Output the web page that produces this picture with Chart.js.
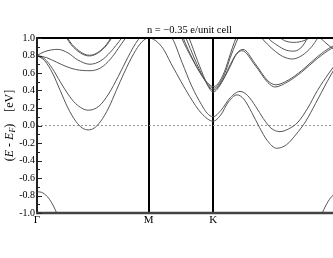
<!DOCTYPE html>
<html><head><meta charset="utf-8">
<script src="https://cdn.jsdelivr.net/npm/chart.js@4.4.1/dist/chart.umd.min.js"></script>
<style>
html,body{margin:0;padding:0;background:#fff;overflow:hidden;width:333px;height:258px}
#wrap{position:absolute;left:0;top:0;width:350px;height:258px}
</style>
</head><body><div id="wrap"><canvas id="c" width="350" height="258"></canvas></div>
<script>
// High-symmetry points along the path (k in units of 2π/a)
const kPointPos = [0, 0.577, 0.911, 1.577];
const kPointLabels = ['Γ', 'M', 'K', 'Γ'];
const titleText = 'n = −0.35 e/unit cell';

// Bands: [k, E - E_F (eV)]
const bandA = [[0,0.80],[0.04,0.74],[0.08,0.60],[0.12,0.40],[0.16,0.20],[0.20,0.05],[0.235,-0.03],[0.265,-0.05],[0.295,-0.03],[0.33,0.05],[0.37,0.20],[0.41,0.40],[0.45,0.60],[0.50,0.82],[0.54,0.95],[0.577,1.0],
  [0.645,0.90],[0.70,0.68],[0.79,0.33],[0.85,0.14],[0.911,0.05],
  [0.95,0.12],[0.99,0.27],[1.034,0.35],[1.07,0.30],[1.11,0.15],[1.15,-0.02],[1.19,-0.17],[1.239,-0.26],[1.29,-0.22],[1.34,-0.10],[1.39,0.05],[1.44,0.25],[1.50,0.50],[1.577,0.80]];
const bandB = [[0,0.80],[0.04,0.76],[0.08,0.65],[0.12,0.50],[0.16,0.36],[0.20,0.25],[0.265,0.175],[0.32,0.22],[0.37,0.36],[0.42,0.56],[0.47,0.78],[0.523,0.98],[0.577,1.08],[0.64,1.08],
  [0.698,1.0],[0.75,0.72],[0.80,0.45],[0.85,0.24],[0.88,0.14],[0.911,0.10],
  [0.95,0.17],[1.0,0.32],[1.05,0.39],[1.09,0.34],[1.13,0.22],[1.17,0.08],[1.21,-0.03],[1.256,-0.07],[1.30,-0.04],[1.35,0.04],[1.40,0.20],[1.45,0.40],[1.51,0.60],[1.577,0.80]];
const bandC = [[0,0.80],[0.05,0.775],[0.10,0.725],[0.15,0.675],[0.20,0.64],[0.274,0.626],[0.33,0.66],[0.38,0.76],[0.42,0.88],[0.458,1.0],[0.50,1.12]];
const bandD = [[0,0.80],[0.04,0.845],[0.108,0.87],[0.16,0.83],[0.21,0.75],[0.274,0.70],[0.33,0.74],[0.38,0.84],[0.438,1.0],[0.48,1.12]];
const bandE1 = [[0.13,1.12],[0.1535,1.0],[0.20,0.87],[0.27,0.795],[0.34,0.87],[0.386,1.0],[0.41,1.1]];
const bandE2 = [[0.135,1.12],[0.158,1.0],[0.205,0.875],[0.272,0.803],[0.338,0.875],[0.382,1.0],[0.405,1.1]];
const bandF1 = [[0.73,1.1],[0.748,1.0],[0.80,0.77],[0.85,0.58],[0.89,0.47],[0.911,0.445],[0.935,0.475],[0.97,0.62],[1.0,0.82],[1.02,0.95],[1.035,1.03]];
const bandF2 = [[0.74,1.1],[0.756,1.0],[0.805,0.76],[0.855,0.56],[0.89,0.455],[0.911,0.425],[0.935,0.455],[0.97,0.59],[1.0,0.78],[1.03,0.95],[1.045,1.03]];
const bandG1 = [[0.75,1.1],[0.77,1.0],[0.815,0.76],[0.86,0.55],[0.89,0.44],[0.911,0.405],[0.935,0.44],[0.97,0.56],[1.0,0.70],[1.035,0.83],[1.065,0.87],[1.127,0.71],[1.194,0.51],[1.235,0.465],[1.30,0.52],[1.37,0.63],[1.452,0.79],[1.523,0.90],[1.577,0.95]];
const bandG2 = [[0.765,1.1],[0.786,1.0],[0.83,0.74],[0.87,0.52],[0.895,0.41],[0.911,0.383],[0.93,0.41],[0.965,0.53],[1.0,0.68],[1.03,0.81],[1.06,0.855],[1.127,0.69],[1.194,0.49],[1.23,0.44],[1.297,0.50],[1.368,0.61],[1.452,0.77],[1.523,0.88],[1.577,0.93]];
const bandH1 = [[1.12,1.1],[1.161,1.0],[1.22,0.87],[1.27,0.79],[1.32,0.76],[1.37,0.80],[1.42,0.90],[1.452,1.0],[1.48,1.08]];
const bandH2 = [[1.16,1.1],[1.194,1.0],[1.24,0.92],[1.29,0.86],[1.33,0.85],[1.37,0.90],[1.40,1.0],[1.43,1.08]];
const bandH3 = [[1.23,1.05],[1.28,0.97],[1.33,0.95],[1.38,0.97],[1.43,1.03]];
const bandH4 = [[1.44,1.05],[1.48,0.97],[1.53,0.88],[1.577,0.85]];
const bandLowL = [[0,-0.755],[0.03,-0.77],[0.06,-0.83],[0.085,-0.92],[0.102,-1.0],[0.115,-1.06]];
const bandLowR = [[1.462,-1.06],[1.475,-1.0],[1.492,-0.92],[1.517,-0.83],[1.547,-0.77],[1.577,-0.755]];
const fermiLevel = [[0,0],[1.577,0]];

const allBands = [bandA,bandB,bandC,bandD,bandE1,bandE2,bandF1,bandF2,bandG1,bandG2,bandH1,bandH2,bandH3,bandH4,bandLowL,bandLowR];

const serif = '"Liberation Serif", "DejaVu Serif", serif';

const datasets = allBands.map(b => ({
  data: b.map(([x, y]) => ({x, y})),
  borderColor: '#555',
  borderWidth: 1,
  pointRadius: 0,
  cubicInterpolationMode: 'monotone',
  fill: false
}));
datasets.push({
  data: fermiLevel.map(([x, y]) => ({x, y})),
  borderColor: '#999',
  borderWidth: 1,
  borderDash: [2, 2],
  pointRadius: 0,
  fill: false
});

const decor = {
  id: 'decor',
  afterDraw(chart) {
    const {ctx, chartArea: a, scales} = chart;
    const ys = scales.y;
    ctx.save();
    // frame
    ctx.lineCap = 'butt';
    ctx.strokeStyle = '#000';
    ctx.lineWidth = 2;
    ctx.beginPath(); ctx.moveTo(a.left - 1, a.top); ctx.lineTo(a.right, a.top); ctx.stroke();
    ctx.strokeStyle = '#222';
    ctx.beginPath(); ctx.moveTo(a.left, a.top - 1); ctx.lineTo(a.left, a.bottom + 1); ctx.stroke();
    ctx.strokeStyle = '#444';
    ctx.lineWidth = 2.5;
    ctx.beginPath(); ctx.moveTo(a.left - 1, a.bottom); ctx.lineTo(a.right, a.bottom); ctx.stroke();
    // inner ticks
    ctx.strokeStyle = '#222';
    ctx.lineWidth = 1;
    for (let i = 0; i <= 20; i++) {
      const v = -1 + i * 0.1;
      const py = Math.round(ys.getPixelForValue(v)) + 0.5;
      const len = (i % 2 === 0) ? 5 : 3;
      ctx.beginPath(); ctx.moveTo(a.left, py); ctx.lineTo(a.left + len, py); ctx.stroke();
    }
    // title
    ctx.fillStyle = '#000';
    ctx.font = '10.5px ' + serif;
    ctx.textAlign = 'center';
    ctx.textBaseline = 'alphabetic';
    ctx.fillText(titleText, (a.left + a.right) / 2, 33);
    // y-axis title
    ctx.translate(10, (a.top + a.bottom) / 2);
    ctx.rotate(-Math.PI / 2);
    const pieces = [
      {t: '(', f: '12px ' + serif, dy: 0},
      {t: 'E', f: 'italic 12px ' + serif, dy: 0},
      {t: ' - ', f: '12px ' + serif, dy: 0},
      {t: 'E', f: 'italic 12px ' + serif, dy: 0},
      {t: 'F', f: 'italic 8px ' + serif, dy: 3},
      {t: ')', f: '12px ' + serif, dy: 0},
      {t: '    ', f: '12px ' + serif, dy: 0},
      {t: '[eV]', f: '12px ' + serif, dy: 0}
    ];
    let total = 0;
    pieces.forEach(p => { ctx.font = p.f; p.w = ctx.measureText(p.t).width; total += p.w; });
    let x = -total / 2;
    ctx.textAlign = 'left';
    ctx.textBaseline = 'middle';
    pieces.forEach(p => { ctx.font = p.f; ctx.fillText(p.t, x, p.dy); x += p.w; });
    ctx.restore();
  }
};

new Chart(document.getElementById('c'), {
  type: 'line',
  data: {datasets},
  options: {
    responsive: false,
    animation: false,
    devicePixelRatio: 1,
    layout: {padding: {top: 38, right: 8, left: 0, bottom: 0}},
    plugins: {legend: {display: false}, title: {display: false}, tooltip: {enabled: false}},
    scales: {
      x: {
        type: 'linear', min: 0, max: 1.577,
        afterBuildTicks: s => { s.ticks = kPointPos.map(v => ({value: v})); },
        afterFit: s => { s.height = 45; },
        ticks: {
          autoSkip: false, maxRotation: 0, padding: 1, color: '#000',
          font: {family: serif, size: 11},
          callback: (v, i) => kPointLabels[i]
        },
        grid: {color: '#000', lineWidth: 2, drawTicks: false},
        border: {display: false}
      },
      y: {
        min: -1, max: 1,
        afterFit: s => { s.width = 37; },
        ticks: {
          stepSize: 0.2, padding: 2, color: '#000',
          font: {family: serif, size: 10},
          callback: v => Number(v).toFixed(1)
        },
        grid: {display: false, drawTicks: false},
        border: {display: false}
      }
    }
  },
  plugins: [decor]
});
</script>
</body></html>
